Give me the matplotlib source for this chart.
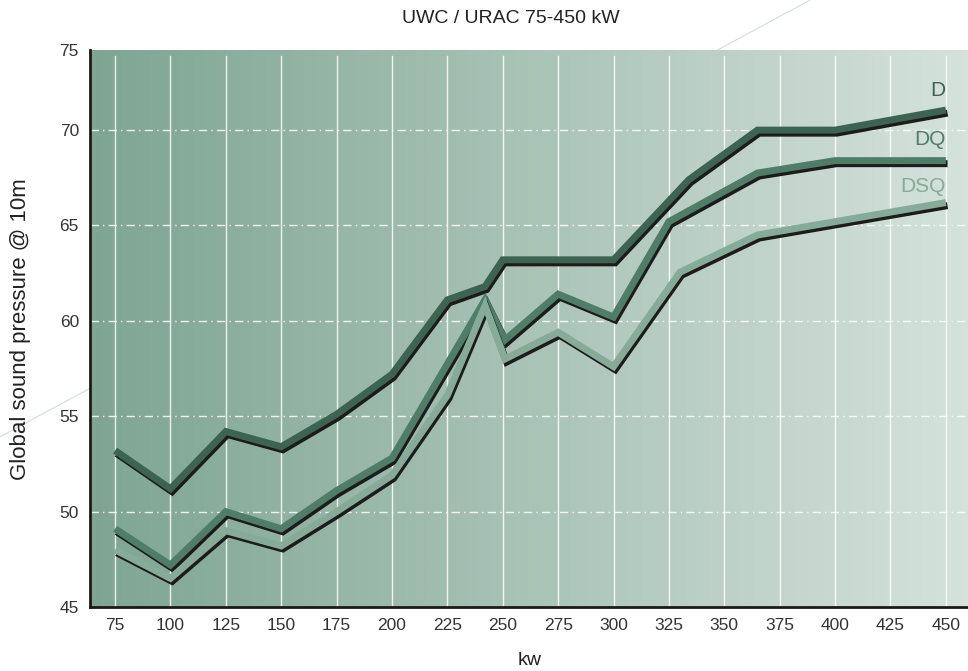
import numpy as np
import matplotlib
matplotlib.use('Agg')
import matplotlib.pyplot as plt
import matplotlib.patheffects as pe
from matplotlib.colors import LinearSegmentedColormap
from matplotlib.lines import Line2D

plt.rcParams['font.family'] = ['Liberation Sans', 'DejaVu Sans']

#Datos
x_d = [75, 100, 125, 150, 175, 200, 225, 242, 250, 300, 334, 365, 400, 450]
y_d = [53.2, 51.2, 54.2, 53.4, 55.1, 57.2, 61.1, 61.8, 63.2, 63.2, 67.4, 70.0, 70.0, 71.05]

x_dq = [75, 100, 125, 150, 175, 200, 242, 251, 275, 300, 325, 365, 400, 450]
y_dq = [49.1, 47.2, 50.0, 49.1, 51.1, 52.8, 61.1, 59.0, 61.4, 60.2, 65.2, 67.75, 68.4, 68.4]

x_dsq = [75, 100, 125, 150, 175, 200, 225, 242, 251, 275, 300, 330, 365, 400, 450]
y_dsq = [48.0, 46.5, 49.0, 48.2, 50.0, 51.9, 56.1, 60.8, 58.0, 59.4, 57.6, 62.55, 64.5, 65.2, 66.2]

series = [('D', x_d, y_d, '#3d6453', 72.1),
          ('DQ', x_dq, y_dq, '#4f7d68', 69.5),
          ('DSQ', x_dsq, y_dsq, '#87ab99', 67.05)]

xticks = [75, 100, 125, 150, 175, 200, 225, 250, 275, 300, 325, 350, 375, 400, 425, 450]
yticks = [45, 50, 55, 60, 65, 70, 74.2]
ylabels = ['45', '50', '55', '60', '65', '70', '75']

fig = plt.figure(figsize=(9.68, 6.71), dpi=100)

#Linea decorativa de fondo
fig.add_artist(Line2D([0, 0.837], [0.349, 1.0], transform=fig.transFigure,
                      color='#d5ddd9', lw=0.8, zorder=0))

ax = fig.add_axes([0.093, 0.0954, 0.907, 0.8301])
ax.set_xlim(63.7, 460)
ax.set_ylim(45, 74.2)

#Fondo degradado
cmap = LinearSegmentedColormap.from_list('bg', ['#7ea594', '#a9c3b7', '#d5e2dc'])
grad = np.linspace(0, 1, 256).reshape(1, -1)
ax.imshow(grad, cmap=cmap, aspect='auto', extent=[63.7, 460, 45, 74.2],
          zorder=0, interpolation='bicubic')

#Rejilla
for xt in xticks:
    ax.axvline(xt, ymax=0.99, color='white', lw=1, alpha=0.85, zorder=1)
for yt in yticks[1:-1]:
    ax.axhline(yt, color='white', lw=1, alpha=0.85, linestyle=(0, (6, 3, 1, 3)), zorder=1)

#Series
for name, xs, ys, col, ylab in series:
    ax.plot(xs, ys, color=col, lw=5, solid_joinstyle='miter', solid_capstyle='butt', zorder=3,
            path_effects=[pe.SimpleLineShadow(offset=(1.2, -2.2), shadow_color='#1c1c1c', alpha=1),
                          pe.Normal()])
    ax.text(450, ylab, name, color=col, fontsize=15, ha='right', va='center', zorder=4)

ax.set_xticks(xticks)
ax.set_xticklabels([str(v) for v in xticks])
ax.set_yticks(yticks)
ax.set_yticklabels(ylabels)
ax.tick_params(length=0, labelsize=12.5, colors='#333333', pad=8)

for s in ['top', 'right']:
    ax.spines[s].set_visible(False)
for s in ['left', 'bottom']:
    ax.spines[s].set_color('#1a1a1a')
    ax.spines[s].set_linewidth(2)
    ax.spines[s].set_zorder(5)

fig.text(0.528, 0.972, 'UWC / URAC 75-450 kW', ha='center', va='center', fontsize=14, color='#222222')
fig.text(0.547, 0.016, 'kw', ha='center', va='center', fontsize=14, color='#222222')
fig.text(0.021, 0.51, 'Global sound pressure @ 10m', ha='center', va='center', rotation=90,
         fontsize=16, color='#222222')

fig.savefig('out.png', dpi=100)
